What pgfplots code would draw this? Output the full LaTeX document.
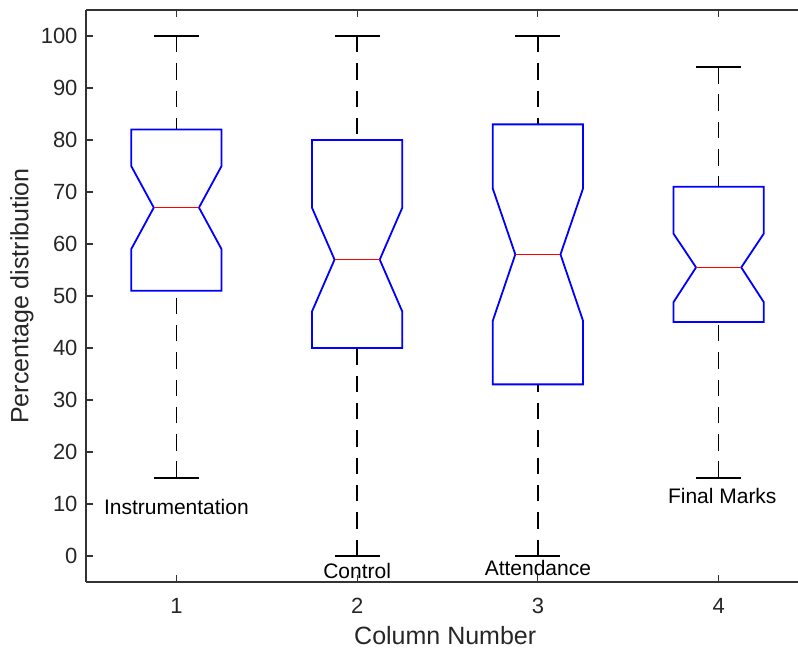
\documentclass[border=0pt]{standalone}
\usepackage{pgfplots}
\pgfplotsset{compat=1.18}
\usepackage{fontspec}
\setmainfont{Liberation Sans}
\begin{document}
\begin{tikzpicture}
\begin{axis}[name=ax, scale only axis, width=712bp, height=572bp,
 xmin=0.5, xmax=4.439, ymin=-5, ymax=105,
 axis x line*=box, axis y line*=left,
 xtick={1,2,3,4}, ytick={0,10,...,100},
 tick align=inside, major tick length=7bp,
 axis line style={line width=1.5bp, color=black!80},
 every tick/.style={line width=1.2bp, black!80},
 /pgf/number format/assume math mode=true,
 ticklabel style={font=\fontsize{22bp}{24bp}\selectfont, text=black!85},
 yticklabel style={xshift=-5bp},
 xticklabel style={yshift=-13bp},
 xlabel={Column Number}, ylabel={Percentage distribution},
 label style={font=\fontsize{25bp}{28bp}\selectfont, text=black!85},
 xlabel style={at={(axis description cs:0.5045,-0.094)}, anchor=center},
 ylabel style={at={(axis description cs:-0.0899,0.5)}, anchor=center},
 clip=false,
]
% whiskers (dashed), drawn from whisker end to box edge
\addplot[black, line width=1.5bp, dash pattern=on 16.5bp off 10.8bp] coordinates {(1,15) (1,51)};
\addplot[black, line width=1.5bp, dash pattern=on 16.5bp off 10.8bp] coordinates {(1,100) (1,82)};
\addplot[black, line width=1.5bp, dash pattern=on 16.5bp off 10.8bp] coordinates {(2,0) (2,40)};
\addplot[black, line width=1.5bp, dash pattern=on 16.5bp off 10.8bp] coordinates {(2,100) (2,80)};
\addplot[black, line width=1.5bp, dash pattern=on 16.5bp off 10.8bp] coordinates {(3,0) (3,33)};
\addplot[black, line width=1.5bp, dash pattern=on 16.5bp off 10.8bp] coordinates {(3,100) (3,83)};
\addplot[black, line width=1.5bp, dash pattern=on 16.5bp off 10.8bp] coordinates {(4,15) (4,45)};
\addplot[black, line width=1.5bp, dash pattern=on 16.5bp off 10.8bp] coordinates {(4,94) (4,71)};
% caps
\addplot[black, line width=1.5bp] coordinates {(0.875,15) (1.125,15)};
\addplot[black, line width=1.5bp] coordinates {(0.875,100) (1.125,100)};
\addplot[black, line width=1.5bp] coordinates {(1.875,0) (2.125,0)};
\addplot[black, line width=1.5bp] coordinates {(1.875,100) (2.125,100)};
\addplot[black, line width=1.5bp] coordinates {(2.875,0) (3.125,0)};
\addplot[black, line width=1.5bp] coordinates {(2.875,100) (3.125,100)};
\addplot[black, line width=1.5bp] coordinates {(3.875,15) (4.125,15)};
\addplot[black, line width=1.5bp] coordinates {(3.875,94) (4.125,94)};
% notched boxes
\addplot[blue, line width=1.8bp] coordinates {(0.75,51) (1.25,51) (1.25,59) (1.125,67) (1.25,75) (1.25,82) (0.75,82) (0.75,75) (0.875,67) (0.75,59)} --cycle;
\addplot[blue, line width=1.8bp] coordinates {(1.75,40) (2.25,40) (2.25,47) (2.125,57) (2.25,67) (2.25,80) (1.75,80) (1.75,67) (1.875,57) (1.75,47)} --cycle;
\addplot[blue, line width=1.8bp] coordinates {(2.75,33) (3.25,33) (3.25,45.2) (3.125,58) (3.25,70.7) (3.25,83) (2.75,83) (2.75,70.7) (2.875,58) (2.75,45.2)} --cycle;
\addplot[blue, line width=1.8bp] coordinates {(3.75,45) (4.25,45) (4.25,48.8) (4.125,55.5) (4.25,62) (4.25,71) (3.75,71) (3.75,62) (3.875,55.5) (3.75,48.8)} --cycle;
% medians
\addplot[red, line width=1.5bp] coordinates {(0.875,67) (1.125,67)};
\addplot[red, line width=1.5bp] coordinates {(1.875,57) (2.125,57)};
\addplot[red, line width=1.5bp] coordinates {(2.875,58) (3.125,58)};
\addplot[red, line width=1.5bp] coordinates {(3.875,55.5) (4.125,55.5)};
% group labels
\node[font=\fontsize{21bp}{24bp}\selectfont] at (axis cs:1,9.5) {Instrumentation};
\node[font=\fontsize{21bp}{24bp}\selectfont] at (axis cs:2,-2.8) {Control};
\node[font=\fontsize{21bp}{24bp}\selectfont] at (axis cs:3,-2.4) {Attendance};
\node[font=\fontsize{21bp}{24bp}\selectfont] at (axis cs:4.02,11.5) {Final Marks};
\end{axis}
\pgfresetboundingbox
\path[use as bounding box] ([shift={(-86bp,-70bp)}]ax.south west) rectangle ([shift={(712bp,10bp)}]ax.north west);
\end{tikzpicture}
\end{document}
